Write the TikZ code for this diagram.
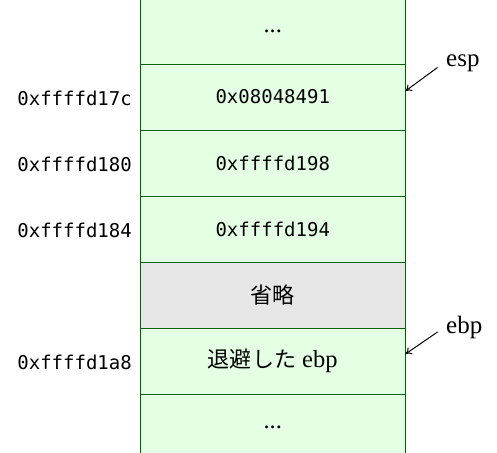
\documentclass[tikz,border=0pt]{standalone}
\usepackage{fontspec}
\setmainfont{Liberation Serif}
\setmonofont{DejaVu Sans Mono}
\newfontfamily\jpfont[Scale=0.9]{Noto Sans CJK JP}
\usetikzlibrary{arrows.meta}
\definecolor{cellgreen}{RGB}{229,255,229}
\definecolor{linegreen}{RGB}{0,100,0}
\definecolor{cellgray}{RGB}{230,230,230}
\begin{document}
\begin{tikzpicture}[x=1pt,y=-1pt,
  cell/.style={draw=linegreen, fill=cellgreen, line width=1pt, minimum width=264.5pt, minimum height=66pt, inner sep=0pt, font=\fontsize{24.5}{28}\selectfont},
  graycell/.style={cell, fill=cellgray},
  mono/.style={font=\fontsize{19}{22}\selectfont\ttfamily},
  addr/.style={anchor=base east, inner sep=0pt, font=\fontsize{19}{22}\selectfont\ttfamily},
  reglabel/.style={anchor=base west, inner sep=0pt, font=\fontsize{25}{28}\selectfont},
  pointer/.style={-{To[length=6pt,width=8pt]}, line width=1pt, black}]
\useasboundingbox (0,0) rectangle (497,452);
\begin{scope}
\clip (0,0) rectangle (497,452);
\node[cell] (r0) at (272.75,31) {...};
\node[cell, mono] (r1) at (272.75,97) {0x08048491};
\node[cell, mono] (r2) at (272.75,163) {0xffffd198};
\node[cell, mono] (r3) at (272.75,229) {0xffffd194};
\node[graycell] (r4) at (272.75,295) {\jpfont 省略};
\node[cell] (r5) at (272.75,361) {{\jpfont 退避した} ebp};
\node[cell] (r6) at (272.75,427) {...};
\end{scope}
\node[addr] (a1) at (132,105.5) {0xffffd17c};
\node[addr] (a2) at (132,171.5) {0xffffd180};
\node[addr] (a3) at (132,237.5) {0xffffd184};
\node[addr] (a5) at (132,369.5) {0xffffd1a8};
\node[reglabel] (esp) at (446,66.5) {esp};
\node[reglabel] (ebp) at (446,333) {ebp};
\coordinate (espfrom) at (437.5,67.5);
\coordinate (ebpfrom) at (437.5,332);
\draw[pointer] (espfrom) -- ([yshift=6pt]r1.east);
\draw[pointer] (ebpfrom) -- ([yshift=7pt]r5.east);
\end{tikzpicture}
\end{document}
